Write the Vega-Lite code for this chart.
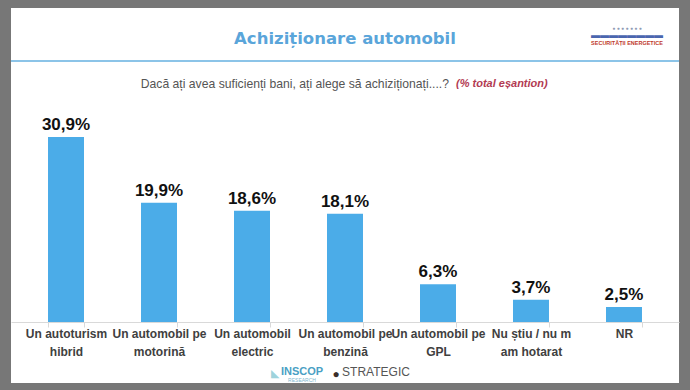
{
  "$schema": "https://vega.github.io/schema/vega-lite/v6.json",
  "width": 668,
  "height": 375,
  "autosize": {"type": "none"},
  "padding": {"left": 11, "top": 8, "right": 11, "bottom": 7},
  "background": "#777777",
  "config": {
    "view": {"fill": "white", "stroke": null},
    "font": "Liberation Sans",
    "locale": {"number": {"decimal": ",", "thousands": ".", "grouping": [3], "currency": ["", "%"]}}
  },
  "datasets": {
    "raspunsuri": [
      {"categorie": "Un autoturism\nhibrid", "procent": 30.9},
      {"categorie": "Un automobil pe\nmotorină", "procent": 19.9},
      {"categorie": "Un automobil\nelectric", "procent": 18.6},
      {"categorie": "Un automobil pe\nbenzină", "procent": 18.1},
      {"categorie": "Un automobil pe\nGPL", "procent": 6.3},
      {"categorie": "Nu știu / nu m\nam hotarat", "procent": 3.7},
      {"categorie": "NR", "procent": 2.5}
    ]
  },
  "layer": [
    {
      "data": {"name": "raspunsuri"},
      "mark": {"type": "bar", "color": "#4BACE8"},
      "encoding": {
        "x": {
          "field": "categorie",
          "type": "nominal",
          "sort": null,
          "scale": {"paddingInner": 0.613, "paddingOuter": 0.398},
          "axis": {
            "title": null,
            "orient": "bottom",
            "offset": -61,
            "domainColor": "#d9d9d9",
            "tickColor": "#d9d9d9",
            "tickSize": 5,
            "tickBand": "extent",
            "grid": false,
            "labelFont": "Liberation Sans",
            "labelFontSize": 12,
            "labelFontWeight": "bold",
            "labelColor": "#404040",
            "labelLineHeight": 18,
            "labelPadding": 1,
            "labelLimit": 200,
            "labelOverlap": false,
            "labelAngle": 0,
            "labelBaseline": "top",
            "labelExpr": "split(datum.label, '\\n')"
          }
        },
        "y": {
          "field": "procent",
          "type": "quantitative",
          "scale": {"domain": [-10.19, 52.45], "nice": false, "zero": false},
          "axis": null
        }
      }
    },
    {
      "data": {"name": "raspunsuri"},
      "mark": {"type": "text", "baseline": "bottom", "dy": -3, "fontSize": 17, "fontWeight": "bold", "color": "#111111", "font": "Liberation Sans"},
      "encoding": {
        "x": {"field": "categorie", "type": "nominal", "sort": null},
        "y": {"field": "procent", "type": "quantitative", "axis": null},
        "text": {"field": "procent", "type": "quantitative", "format": "$.1f"}
      }
    },
    {
      "data": {"values": [{}]},
      "mark": {"type": "text", "text": "Achiziționare automobil", "font": "DejaVu Sans", "fontWeight": "bold", "fontSize": 16.5, "color": "#5AA5DA", "baseline": "middle", "align": "center"},
      "encoding": {
        "x": {"datum": "Un automobil pe\nbenzină", "type": "nominal"},
        "y": {"datum": 47.2, "type": "quantitative", "axis": null}
      }
    },
    {
      "data": {"values": [{}]},
      "mark": {"type": "rule", "color": "#8CC4E8", "strokeWidth": 2},
      "encoding": {
        "y": {"datum": 43.6, "type": "quantitative", "axis": null}
      }
    },
    {
      "data": {"values": [{}]},
      "mark": {"type": "text", "text": "Dacă ați avea suficienți bani, ați alege să achiziționați....?", "fontSize": 12.2, "color": "#555555", "baseline": "middle", "align": "right", "dx": 104},
      "encoding": {
        "x": {"datum": "Un automobil pe\nbenzină", "type": "nominal"},
        "y": {"datum": 39.7, "type": "quantitative", "axis": null}
      }
    },
    {
      "data": {"values": [{}]},
      "mark": {"type": "text", "text": "(% total eșantion)", "fontSize": 11, "fontStyle": "italic", "fontWeight": "bold", "color": "#B23A52", "baseline": "middle", "align": "left", "dx": 111},
      "encoding": {
        "x": {"datum": "Un automobil pe\nbenzină", "type": "nominal"},
        "y": {"datum": 39.7, "type": "quantitative", "axis": null}
      }
    },
    {
      "data": {"values": [{}]},
      "mark": {"type": "text", "text": "● ● ● ● ● ● ●", "fontSize": 5, "color": "#8E9AB4", "baseline": "middle", "align": "center", "dx": 3},
      "encoding": {
        "x": {"datum": "NR", "type": "nominal"},
        "y": {"datum": 49.1, "type": "quantitative", "axis": null}
      }
    },
    {
      "data": {"values": [{}]},
      "mark": {"type": "text", "text": "▬▬▬▬▬▬▬▬", "fontSize": 9, "color": "#4A66AE", "baseline": "middle", "align": "center", "dx": 3},
      "encoding": {
        "x": {"datum": "NR", "type": "nominal"},
        "y": {"datum": 47.9, "type": "quantitative", "axis": null}
      }
    },
    {
      "data": {"values": [{}]},
      "mark": {"type": "text", "text": "SECURITĂȚII ENERGETICE", "fontSize": 5.5, "fontWeight": "bold", "color": "#C0392B", "baseline": "middle", "align": "center", "dx": 3},
      "encoding": {
        "x": {"datum": "NR", "type": "nominal"},
        "y": {"datum": 46.6, "type": "quantitative", "axis": null}
      }
    },
    {
      "data": {"values": [{}]},
      "mark": {"type": "text", "text": "INSCOP", "fontSize": 11, "fontWeight": "bold", "color": "#4A9FC4", "baseline": "middle", "align": "center", "dx": -43},
      "encoding": {
        "x": {"datum": "Un automobil pe\nbenzină", "type": "nominal"},
        "y": {"datum": -8.4, "type": "quantitative", "axis": null}
      }
    },
    {
      "data": {"values": [{}]},
      "mark": {"type": "text", "text": "RESEARCH", "fontSize": 5, "color": "#7FB8D0", "baseline": "middle", "align": "center", "dx": -43},
      "encoding": {
        "x": {"datum": "Un automobil pe\nbenzină", "type": "nominal"},
        "y": {"datum": -9.7, "type": "quantitative", "axis": null}
      }
    },
    {
      "data": {"values": [{}]},
      "mark": {"type": "text", "text": "◣", "fontSize": 11, "color": "#9ED3DC", "baseline": "middle", "align": "center", "dx": -70},
      "encoding": {
        "x": {"datum": "Un automobil pe\nbenzină", "type": "nominal"},
        "y": {"datum": -8.7, "type": "quantitative", "axis": null}
      }
    },
    {
      "data": {"values": [{}]},
      "mark": {"type": "text", "text": "●", "fontSize": 12, "color": "#3A2E2A", "baseline": "middle", "align": "center", "dx": -9},
      "encoding": {
        "x": {"datum": "Un automobil pe\nbenzină", "type": "nominal"},
        "y": {"datum": -8.7, "type": "quantitative", "axis": null}
      }
    },
    {
      "data": {"values": [{}]},
      "mark": {"type": "text", "text": "STRATEGIC", "fontSize": 12, "color": "#555555", "baseline": "middle", "align": "center", "dx": 31},
      "encoding": {
        "x": {"datum": "Un automobil pe\nbenzină", "type": "nominal"},
        "y": {"datum": -8.4, "type": "quantitative", "axis": null}
      }
    }
  ]
}
